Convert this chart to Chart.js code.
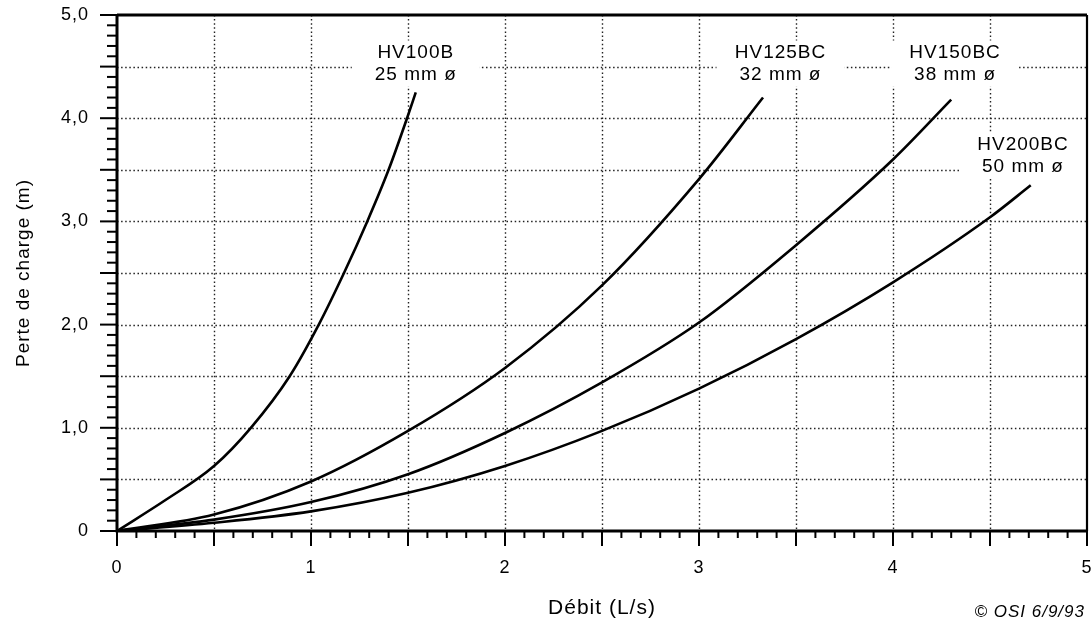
<!DOCTYPE html>
<html>
<head>
<meta charset="utf-8">
<script src="https://cdn.jsdelivr.net/npm/chart.js@4/dist/chart.umd.min.js"></script>
<style>
  html, body { margin: 0; padding: 0; background: #fff; }
  #wrap { width: 1091px; height: 624px; }
</style>
</head>
<body>
<div id="wrap"><canvas id="lossChart" width="1091" height="624"></canvas></div>
<script>
// Débit (L/s) vs perte de charge (m)
const hv100X = [0, 0.25, 0.5, 0.69, 0.89, 1.04, 1.17, 1.29, 1.40, 1.495, 1.54];
const hv100Y = [0, 0.3, 0.63, 1.0, 1.5, 2.0, 2.5, 3.0, 3.5, 4.0, 4.25];
const hv125X = [0, 0.5, 1.0, 1.5, 2.0, 2.5, 3.0, 3.33];
const hv125Y = [0, 0.16, 0.48, 0.97, 1.58, 2.38, 3.41, 4.2];
const hv150X = [0, 0.5, 1.0, 1.5, 2.0, 2.5, 3.0, 3.5, 4.0, 4.30];
const hv150Y = [0, 0.11, 0.28, 0.55, 0.95, 1.44, 2.02, 2.77, 3.6, 4.18];
const hv200X = [0, 0.5, 1.0, 1.5, 2.0, 2.5, 3.0, 3.5, 4.0, 4.5, 4.71];
const hv200Y = [0, 0.08, 0.19, 0.37, 0.63, 0.97, 1.38, 1.86, 2.41, 3.04, 3.35];

const modelNames = ['HV100B', 'HV125BC', 'HV150BC', 'HV200BC'];
const pipeSizes = ['25 mm ø', '32 mm ø', '38 mm ø', '50 mm ø'];

const xTicks = [0, 1, 2, 3, 4, 5];
const yTicks = ['0', '1,0', '2,0', '3,0', '4,0', '5,0'];

const FONT = "'Liberation Sans', Arial, Helvetica, sans-serif";

function pts(xs, ys) {
  return xs.map((x, i) => ({ x: x, y: ys[i] }));
}

function curve(label, xs, ys) {
  return {
    label: label,
    data: pts(xs, ys),
    borderColor: '#000',
    borderWidth: 2.6,
    pointRadius: 0,
    fill: false,
    cubicInterpolationMode: 'monotone'
  };
}

// where each curve label sits (data units)
const labelAt = [[1.54, 4.53], [3.42, 4.53], [4.32, 4.53], [4.67, 3.64]];

const paperPlugin = {
  id: 'paper',
  beforeDraw(chart) {
    chart.ctx.letterSpacing = '1px';
  },
  beforeDatasetsDraw(chart) {
    const ctx = chart.ctx;
    const xs = chart.scales.x, ys = chart.scales.y;
    const a = chart.chartArea;
    ctx.save();
    // dotted grid every 0.5
    ctx.strokeStyle = '#222';
    ctx.lineWidth = 1.4;
    ctx.setLineDash([1.5, 2.6]);
    for (let i = 1; i < 10; i++) {
      const px = Math.round(xs.getPixelForValue(i / 2)) + 0.5;
      ctx.beginPath(); ctx.moveTo(px, a.top); ctx.lineTo(px, a.bottom); ctx.stroke();
      const py = Math.round(ys.getPixelForValue(i / 2)) + 0.5;
      ctx.beginPath(); ctx.moveTo(a.left, py); ctx.lineTo(a.right, py); ctx.stroke();
    }
    ctx.setLineDash([]);
    // curve labels on white patches
    ctx.font = '19px ' + FONT;
    ctx.textAlign = 'center';
    ctx.textBaseline = 'middle';
    labelAt.forEach((p, i) => {
      const cx = xs.getPixelForValue(p[0]);
      const cy = ys.getPixelForValue(p[1]);
      ctx.fillStyle = '#fff';
      ctx.fillRect(cx - 64, cy - 23, 128, 46);
      ctx.fillStyle = '#000';
      ctx.fillText(modelNames[i], cx, cy - 11);
      ctx.fillText(pipeSizes[i], cx, cy + 11);
    });
    ctx.restore();
  },
  afterDraw(chart) {
    const ctx = chart.ctx;
    const xs = chart.scales.x, ys = chart.scales.y;
    const a = chart.chartArea;
    ctx.save();
    ctx.strokeStyle = '#000';
    // frame
    ctx.lineWidth = 3;
    ctx.beginPath();
    ctx.moveTo(a.left, a.top); ctx.lineTo(a.right, a.top);
    ctx.moveTo(a.left, a.top); ctx.lineTo(a.left, a.bottom);
    ctx.lineTo(a.right, a.bottom);
    ctx.stroke();
    ctx.lineWidth = 2.2;
    ctx.beginPath(); ctx.moveTo(a.right, a.top); ctx.lineTo(a.right, a.bottom); ctx.stroke();
    // ticks every 0.1, longer every 0.5
    ctx.lineWidth = 2;
    for (let i = 0; i <= 50; i++) {
      const major = i % 5 === 0;
      const px = xs.getPixelForValue(i / 10);
      ctx.beginPath(); ctx.moveTo(px, a.bottom); ctx.lineTo(px, a.bottom + (major ? 15 : 7)); ctx.stroke();
      const py = ys.getPixelForValue(i / 10);
      ctx.beginPath(); ctx.moveTo(a.left, py); ctx.lineTo(a.left - (major ? 17 : 10), py); ctx.stroke();
    }
    // stamp
    ctx.font = 'italic 17px ' + FONT;
    ctx.fillStyle = '#000';
    ctx.textAlign = 'right';
    ctx.textBaseline = 'middle';
    ctx.fillText('© OSI 6/9/93', a.right - 2, 612);
    ctx.restore();
  }
};

const lossCtx = document.getElementById('lossChart').getContext('2d');
new Chart(lossCtx, {
  type: 'line',
  data: {
    datasets: [
      curve(modelNames[0], hv100X, hv100Y),
      curve(modelNames[1], hv125X, hv125Y),
      curve(modelNames[2], hv150X, hv150Y),
      curve(modelNames[3], hv200X, hv200Y)
    ]
  },
  options: {
    responsive: false,
    animation: false,
    events: [],
    layout: { padding: { left: 0, top: 15, right: 4, bottom: 0 } },
    plugins: { legend: { display: false }, tooltip: { enabled: false } },
    scales: {
      x: {
        type: 'linear', min: 0, max: 5,
        grid: { display: false, drawTicks: false },
        border: { display: false },
        ticks: {
          stepSize: 1, padding: 26, color: '#000', maxRotation: 0,
          font: { family: FONT, size: 18 },
          callback: (v) => xTicks.includes(v) ? String(v) : ''
        },
        title: {
          display: true, text: 'Débit (L/s)', color: '#000',
          font: { family: FONT, size: 21 }, padding: { top: 0, bottom: 3 }
        },
        afterFit: (s) => { s.height = 93; s.paddingLeft = 0; s.paddingRight = 0; }
      },
      y: {
        type: 'linear', min: 0, max: 5,
        grid: { display: false, drawTicks: false },
        border: { display: false },
        ticks: {
          stepSize: 1, padding: 28, color: '#000',
          font: { family: FONT, size: 18 },
          callback: (v) => Number.isInteger(v) ? yTicks[v] : ''
        },
        title: {
          display: true, text: 'Perte de charge (m)', color: '#000',
          font: { family: FONT, size: 19 }, padding: { top: 12, bottom: 0 }
        },
        afterFit: (s) => { s.width = 117; s.paddingTop = 0; s.paddingBottom = 0; }
      }
    }
  },
  plugins: [paperPlugin]
});
</script>
</body>
</html>
